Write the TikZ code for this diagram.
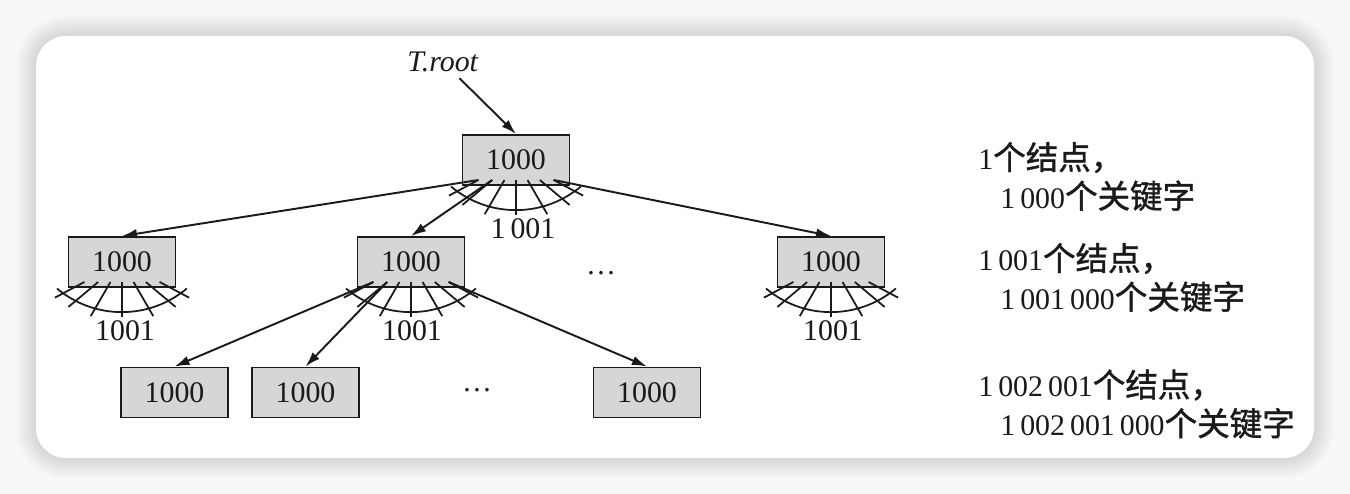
\documentclass[tikz,border=0pt]{standalone}
\usepackage{fontspec}
\setmainfont{Liberation Serif}
\newfontfamily\cjk[FakeBold=1.2]{Noto Sans CJK SC}
\newcommand{\zh}[1]{{\cjk\fontsize{18.5}{22}\selectfont #1}}
\usepackage{xcolor}
\definecolor{fondoGris}{HTML}{F8F8F8}
\definecolor{cajaGris}{HTML}{D6D6D6}
\definecolor{tinta}{HTML}{1A1A1A}
\usepackage{tikz}
\usetikzlibrary{arrows.meta,positioning,calc}

\begin{document}
\begin{tikzpicture}[x=1cm,y=1cm,font=\fontsize{17}{22}\selectfont,>=Latex,
  knode/.style={draw=tinta,line width=1.1pt,fill=cajaGris,text=tinta,
    minimum width=2.14cm,minimum height=1cm,inner sep=0pt},
  ptr/.style={-{Latex[length=3mm,width=1.9mm]},line width=1.1pt,draw=tinta},
  fan/.style={line width=1pt,draw=tinta}]

% Fondo y tarjeta
\fill[fondoGris] (0,0) rectangle (27,9.88);
\foreach \d/\r in {0.40/1.00,0.35/0.95,0.30/0.90,0.25/0.85,0.20/0.80,0.15/0.75,0.10/0.70,0.05/0.65}
  \fill[black,opacity=0.015,rounded corners=\r cm]
    (0.72-\d,0.72-\d) rectangle (26.28+\d,9.16+\d);
\fill[white,rounded corners=0.6cm] (0.72,0.72) rectangle (26.28,9.16);

% Nodos del arbol
\node[knode] (root) at (10.32,6.68) {1000};
\node[knode] (a)  at (2.44,4.64)  {1000};
\node[knode] (b)  at (8.22,4.64)  {1000};
\node[knode] (c)  at (16.62,4.64) {1000};
\node[knode] (b1) at (3.49,2.03)  {1000};
\node[knode] (b2) at (6.11,2.03)  {1000};
\node[knode] (b3) at (12.94,2.03) {1000};

\node[text=tinta] (dots1) at (12.02,4.42) {\dots};
\node[text=tinta] (dots2) at (9.54,2.07)  {\dots};

% Puntero de la raiz
\node[text=tinta] (troot) at (8.86,8.64) {\textit{T.root}};
\draw[ptr] (troot) -- (root.north);

% Abanicos de punteros
\foreach \n in {root,a,b,c}{
  \draw[fan,shift={(\n)}] (-1.3,-0.53) arc[start angle=-130,end angle=-50,radius=2.02];
  \foreach \k/\t/\r in {1/-62/1.52,2/-50/1.4,3/-30/1.25,4/0/1.1,5/30/1.25,6/50/1.4,7/62/1.52}{
    \coordinate (\n-s\k) at ($(\n)+({\t-90}:{0.4/cos(\t)})$);
    \draw[fan] (\n-s\k) -- ($(\n)+({\t-90}:\r)$);
  }
}

\node[text=tinta] (root-n) at (10.46,5.30) {1\,001};
\node[text=tinta] (a-n) at (2.50,3.26)  {1001};
\node[text=tinta] (b-n) at (8.24,3.26)  {1001};
\node[text=tinta] (c-n) at (16.66,3.26) {1001};

% Flechas
\draw[ptr] (root-s1) -- (a.north);
\draw[ptr] (root-s2) -- (b.north);
\draw[ptr] (root-s7) -- (c.north);
\draw[ptr] (b-s1) -- (b1.north);
\draw[ptr] (b-s2) -- (b2.north);
\draw[ptr] (b-s7) -- (b3.north);

% Recuento por nivel
\node[anchor=west,align=left,inner sep=0pt,text=tinta] (lvl1) at (19.56,6.35)
  {1\zh{个结点，}\\\hspace*{0.44cm}1\,000\zh{个关键字}};
\node[anchor=west,align=left,inner sep=0pt,text=tinta] (lvl2) at (19.56,4.33)
  {1\,001\zh{个结点，}\\\hspace*{0.44cm}1\,001\,000\zh{个关键字}};
\node[anchor=west,align=left,inner sep=0pt,text=tinta] (lvl3) at (19.56,1.80)
  {1\,002\,001\zh{个结点，}\\\hspace*{0.44cm}1\,002\,001\,000\zh{个关键字}};

\end{tikzpicture}
\end{document}
